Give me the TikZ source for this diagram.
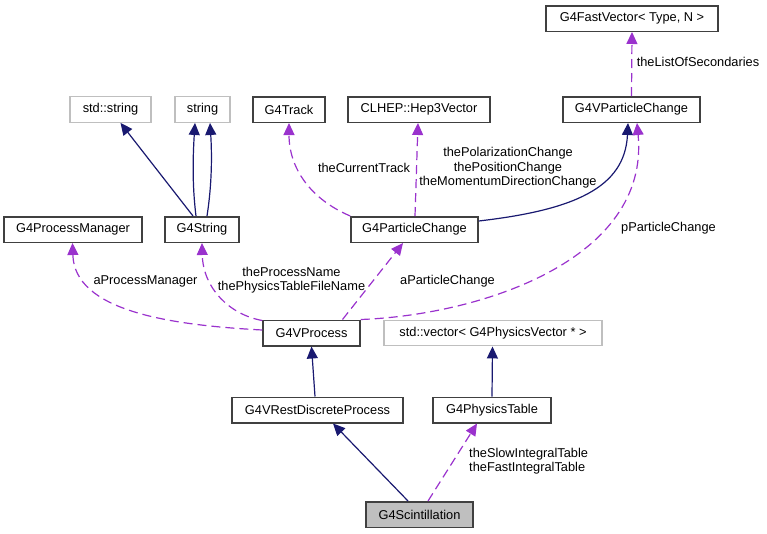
\documentclass[tikz,border=0pt]{standalone}
\usepackage{fontspec}
\setmainfont{Liberation Sans}
\usetikzlibrary{arrows.meta}
\definecolor{inhblue}{HTML}{191970}
\definecolor{usepurple}{HTML}{9A32CD}
\definecolor{extgray}{HTML}{BFBFBF}
\begin{document}
\begin{tikzpicture}[x=1pt,y=-1pt,
		font=\fontsize{12.8}{14.6}\selectfont,
		cls/.style={draw=black!75, line width=1.5pt, minimum height=25.5pt, inner sep=0pt},
		ext/.style={draw=extgray, line width=1.4pt, minimum height=25.5pt, inner sep=0pt},
		self/.style={cls, fill=extgray},
		inh/.style={draw=inhblue, line width=1.2pt, -{Triangle[length=12pt,width=11pt]}},
		uses/.style={draw=usepurple, line width=1.2pt, dash pattern=on 9pt off 5pt, -{Triangle[length=12pt,width=11pt]}},
		lbl/.style={align=center, inner sep=0pt}]
		\useasboundingbox (0,0) rectangle (767,533);
		
		% classes
		\node[cls, minimum width=172pt] (fastvec) at (632,18.5) {G4FastVector< Type, N >};
		\node[ext, minimum width=81pt] (stdstr) at (110.5,109.5) {std::string};
		\node[ext, minimum width=55pt] (str) at (202.5,109.5) {string};
		\node[cls, minimum width=72pt] (track) at (289,109.5) {G4Track};
		\node[cls, minimum width=142pt] (hep) at (419,109.5) {CLHEP::Hep3Vector};
		\node[cls, minimum width=137pt] (vpc) at (631.5,109.5) {G4VParticleChange};
		\node[cls, minimum width=138pt] (pm) at (73,229.5) {G4ProcessManager};
		\node[cls, minimum width=74pt] (g4str) at (202,229.5) {G4String};
		\node[cls, minimum width=127pt] (pc) at (414.5,229.5) {G4ParticleChange};
		\node[cls, minimum width=97pt] (vproc) at (311.5,333) {G4VProcess};
		\node[ext, minimum width=218pt] (vec) at (493,333) {std::vector< G4PhysicsVector * >};
		\node[cls, minimum width=171pt] (vrdp) at (317.5,410) {G4VRestDiscreteProcess};
		\node[cls, minimum width=118pt] (ptab) at (492,410) {G4PhysicsTable};
		\node[self, minimum width=107pt] (scint) at (419.5,514.5) {G4Scintillation};
		
		% inheritance
		\draw[inh] ([xshift=-9pt]g4str.north) -- ([xshift=10pt]stdstr.south);
		\draw[inh] ([xshift=-6pt]g4str.north) .. controls +(-4,-32) and +(-2,32) .. ([xshift=-7.5pt]str.south);
		\draw[inh] ([xshift=5pt]g4str.north) .. controls +(5,-32) and +(2,32) .. ([xshift=7.5pt]str.south);
		\draw[inh] ([yshift=8.5pt]pc.east) .. controls +(95,-11) and +(-3,65) .. ([xshift=-3.5pt]vpc.south);
		\draw[inh] ([xshift=-2.5pt]vrdp.north) -- (vproc.south);
		\draw[inh] (ptab.north) -- ([xshift=-0.5pt]vec.south);
		\draw[inh] ([xshift=-11.5pt]scint.north) -- ([xshift=15.5pt]vrdp.south);
		
		% members
		\draw[uses] (vpc.north) -- (fastvec.south);
		\draw[uses] (pc.north west) .. controls +(-40,-17) and +(0,45) .. (track.south);
		\draw[uses] ([xshift=0.5pt]pc.north) -- ([xshift=-1pt]hep.south);
		\draw[uses] (vproc.north east) .. controls (480,315) and (650,260) .. ([xshift=5.5pt]vpc.south);
		\draw[uses] ([xshift=31pt]vproc.north) -- ([xshift=-11.5pt]pc.south);
		\draw[uses] ([yshift=-1pt]vproc.north west) .. controls +(-33,-6) and +(1,45) .. (g4str.south);
		\draw[uses] ([yshift=3pt]vproc.west) .. controls +(-93,-5) and +(2,68) .. ([xshift=-0.5pt]pm.south);
		\draw[uses] ([xshift=8.5pt]scint.north) -- ([xshift=-15pt]ptab.south);
		
		% member names
		\node[lbl] (lsec) at (698,62) {theListOfSecondaries};
		\node[lbl] (ltrack) at (364,168) {theCurrentTrack};
		\node[lbl] (lvec) at (508,168) {thePolarizationChange\\thePositionChange\\theMomentumDirectionChange};
		\node[lbl] (lppc) at (668.5,228) {pParticleChange};
		\node[lbl] (lapc) at (447.5,281) {aParticleChange};
		\node[lbl] (lname) at (291.5,280) {theProcessName\\thePhysicsTableFileName};
		\node[lbl] (lpm) at (145.5,281) {aProcessManager};
		\node[lbl, align=left, anchor=west] (ltab) at (469,461) {theSlowIntegralTable\\theFastIntegralTable};
	\end{tikzpicture}
\end{document}
